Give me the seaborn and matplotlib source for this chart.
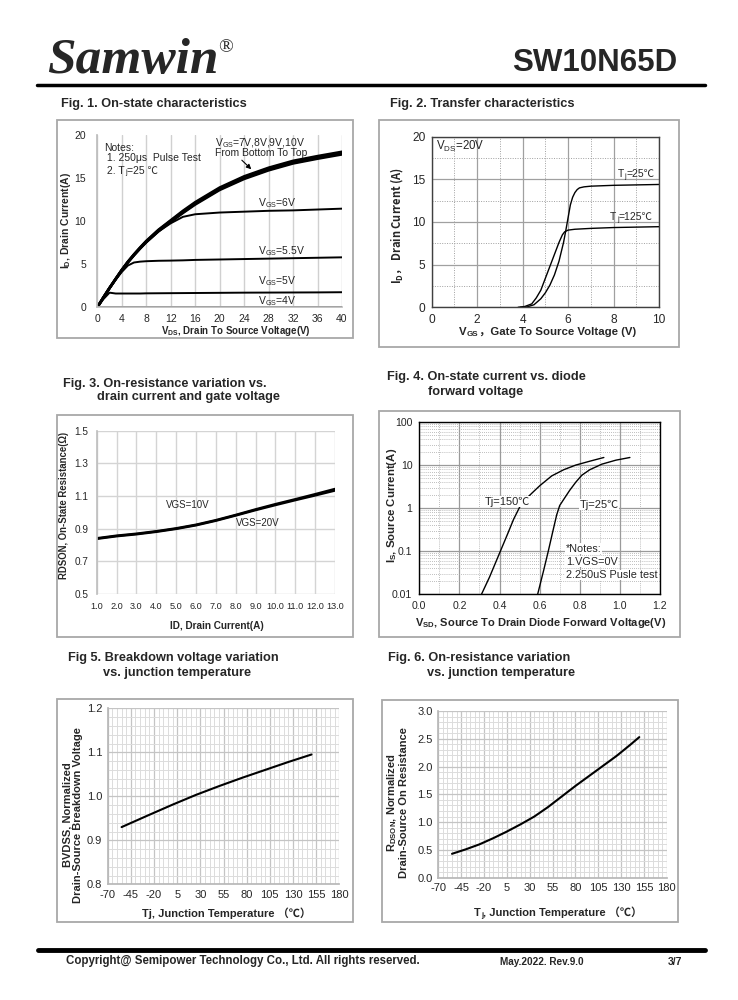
import numpy as np
import pandas as pd
import matplotlib
matplotlib.use("Agg")
import matplotlib.pyplot as plt
import seaborn as sns
from matplotlib.patches import Rectangle
from matplotlib.lines import Line2D
from matplotlib.ticker import MultipleLocator, FixedLocator, NullFormatter, FuncFormatter

# ---------------- data ----------------
# Fig 1
vds = [0, 1, 2, 3, 4, 5, 6, 7, 8, 10, 12, 14, 16, 20, 24, 28, 32, 36, 40]
id_10v = [0, 1.15, 2.25, 3.3, 4.35, 5.3, 6.15, 6.95, 7.7, 9.0, 10.1, 11.2, 12.2, 13.9, 15.2, 16.2, 17.0, 17.55, 18.05]
id_9v = [0, 1.15, 2.25, 3.3, 4.33, 5.27, 6.12, 6.9, 7.65, 8.95, 10.03, 11.1, 12.1, 13.8, 15.1, 16.1, 16.9, 17.45, 17.95]
id_8v = [0, 1.14, 2.24, 3.28, 4.3, 5.24, 6.08, 6.86, 7.6, 8.88, 9.97, 11.03, 12.02, 13.72, 15.0, 16.0, 16.8, 17.35, 17.85]
id_7v = [0, 1.13, 2.22, 3.26, 4.27, 5.2, 6.04, 6.82, 7.55, 8.82, 9.9, 10.95, 11.93, 13.62, 14.9, 15.9, 16.7, 17.25, 17.75]
id_6v = [0, 1.13, 2.22, 3.26, 4.27, 5.2, 6.04, 6.82, 7.55, 8.8, 9.75, 10.5, 10.8, 11.0, 11.1, 11.2, 11.25, 11.35, 11.45]
id_55v = [0, 1.13, 2.2, 3.2, 4.1, 4.85, 5.2, 5.3, 5.35, 5.4, 5.42, 5.45, 5.5, 5.55, 5.6, 5.65, 5.7, 5.75, 5.8]
id_5v = [0, 0.95, 1.7, 1.6, 1.6, 1.6, 1.6, 1.6, 1.62, 1.63, 1.64, 1.65, 1.66, 1.68, 1.7, 1.71, 1.72, 1.73, 1.75]
id_4v = [0, 0, 0, 0, 0, 0, 0, 0, 0, 0, 0, 0, 0, 0, 0, 0, 0, 0, 0]

# Fig 2
vgs_25 = [3.9, 4.2, 4.5, 4.8, 5.0, 5.2, 5.4, 5.6, 5.8, 5.9, 6.0, 6.1, 6.2, 6.3, 6.4, 6.5, 6.7, 7.0, 8.0, 9.0, 10.0]
id_25 = [0, 0.05, 0.3, 1.0, 1.7, 2.6, 3.8, 5.4, 7.6, 9.0, 10.5, 12.0, 12.9, 13.45, 13.8, 14.0, 14.12, 14.2, 14.3, 14.35, 14.4]
vgs_125 = [3.8, 4.1, 4.4, 4.6, 4.8, 5.0, 5.2, 5.4, 5.6, 5.75, 5.85, 6.0, 6.3, 7.0, 8.0, 9.0, 10.0]
id_125 = [0, 0.1, 0.4, 1.1, 2.0, 3.4, 4.8, 6.2, 7.6, 8.5, 8.85, 9.05, 9.15, 9.25, 9.35, 9.4, 9.45]

# Fig 3
id_a = [1, 2, 3, 4, 5, 6, 7, 8, 9, 10, 11, 12, 13]
rds_10v = [0.841, 0.857, 0.869, 0.884, 0.902, 0.924, 0.952, 0.984, 1.018, 1.050, 1.080, 1.111, 1.143]
rds_20v = [0.838, 0.854, 0.866, 0.881, 0.899, 0.921, 0.949, 0.981, 1.014, 1.045, 1.075, 1.104, 1.134]

# Fig 4
vsd_150 = [0.31, 0.35, 0.40, 0.44, 0.47, 0.50, 0.53, 0.56, 0.60, 0.66, 0.72, 0.78, 0.85, 0.92]
is_150 = [0.01, 0.025, 0.09, 0.25, 0.55, 1.05, 1.6, 2.2, 3.3, 5.6, 7.8, 10.0, 12.3, 15.0]
vsd_25 = [0.59, 0.62, 0.643, 0.665, 0.685, 0.70, 0.72, 0.75, 0.78, 0.81, 0.85, 0.91, 0.98, 1.05]
is_25 = [0.01, 0.036, 0.1, 0.28, 0.7, 1.15, 1.6, 2.6, 4.0, 5.8, 7.8, 10.5, 13.0, 15.0]

# Fig 5
tj5 = [-55, -25, 0, 25, 50, 75, 100, 125, 150]
bvdss = [0.930, 0.958, 0.981, 1.003, 1.023, 1.042, 1.060, 1.078, 1.095]

# Fig 6
tj6 = [-55, -40, -25, -10, 5, 20, 35, 50, 65, 80, 95, 110, 125, 140, 150]
rdson_n = [0.43, 0.51, 0.60, 0.71, 0.83, 0.96, 1.10, 1.27, 1.46, 1.65, 1.83, 2.01, 2.19, 2.39, 2.53]

temp_ticks = [-70, -45, -20, 5, 30, 55, 80, 105, 130, 155, 180]

# ---------------- style ----------------
sns.set_theme(style="white")
FAM = ["Liberation Sans", "Noto Sans CJK SC", "DejaVu Sans"]
CJK = ["Noto Sans CJK SC", "Liberation Sans"]
plt.rcParams["font.family"] = FAM
plt.rcParams["mathtext.default"] = "regular"
plt.rcParams["axes.unicode_minus"] = False

W, H = 738, 1000
fig = plt.figure(figsize=(W / 100, H / 100), dpi=100)
fig.patch.set_facecolor("white")


def add_ax(x0, x1, ytop, ybot):
    return fig.add_axes([x0 / W, 1 - ybot / H, (x1 - x0) / W, (ybot - ytop) / H])


def frame(x0, y0, x1, y1):
    fig.add_artist(Rectangle((x0 / W, 1 - y1 / H), (x1 - x0) / W, (y1 - y0) / H,
                             transform=fig.transFigure, fill=False, ec="#a8a8a8", lw=1.3))


def ftext(x, y, s, **kw):
    fig.text(x / W, 1 - y / H, s, **kw)


def ylab(ax, s, x, y, size=8, **kw):
    ax.set_ylabel(s, fontsize=size, fontweight="bold", va="center", **kw)
    ax.yaxis.set_label_coords(x / W, 1 - y / H, transform=fig.transFigure)


def xlab(ax, s, x, y, size=8, **kw):
    ax.set_xlabel(s, fontsize=size, fontweight="bold", va="center", **kw)
    ax.xaxis.set_label_coords(x / W, 1 - y / H, transform=fig.transFigure)


def rich(ax, x, y, parts, size, weight="normal", transform=None):
    """Horizontal text made of pieces; pieces flagged True are subscripts."""
    base = ax.text(x, y, parts[0][0], fontsize=size, fontweight=weight, va="bottom", ha="left",
                   transform=transform if transform is not None else ax.transData)
    prev = base
    for s, sub in parts[1:]:
        if sub:
            t = ax.annotate(s, xy=(1, 0), xycoords=prev, xytext=(0.2, -size * 0.05),
                            textcoords="offset points", fontsize=size * 0.7, fontweight=weight,
                            va="bottom", ha="left")
        else:
            t = ax.annotate(s, xy=(1, 0), xycoords=(prev, base), xytext=(0.2, 0),
                            textcoords="offset points", fontsize=size, fontweight=weight,
                            va="bottom", ha="left")
        prev = t
    return base


def line(ax, x, y, lw=1.3, color="black"):
    sns.lineplot(x=x, y=y, ax=ax, color=color, lw=lw, sort=False, estimator=None)


# ---------------- header / footer ----------------
ftext(47, 61, "Samwin", fontsize=37, fontweight="bold", style="italic",
      family=["Liberation Serif"], va="center", ha="left")
ftext(218, 48, "®", fontsize=14, family=["Liberation Serif"], va="center", ha="left")
ftext(677, 63, "SW10N65D", fontsize=22.5, fontweight="bold", va="center", ha="right")
fig.add_artist(Line2D([37 / W, 705 / W], [1 - 84.5 / H, 1 - 84.5 / H], color="black", lw=2.5,
                      transform=fig.transFigure))
fig.add_artist(Line2D([38 / W, 705 / W], [1 - 949.5 / H, 1 - 949.5 / H], color="black", lw=3.5,
                      transform=fig.transFigure))
ftext(66, 961, "Copyright@ Semipower Technology Co., Ltd. All rights reserved.", fontsize=8.3,
      fontweight="bold", va="center", ha="left")
ftext(500, 962, "May.2022. Rev.9.0", fontsize=7.2, fontweight="bold", va="center", ha="left")
ftext(668, 962, "3/7", fontsize=7.5, fontweight="bold", va="center", ha="left")

TS = 9.2
# ---------------- Fig 1 ----------------
frame(57, 120, 353, 338)
ftext(61, 104, "Fig. 1. On-state characteristics", fontsize=TS, fontweight="bold", va="center")
ax1 = add_ax(97.3, 342, 135, 307.3)
for yy in [id_7v, id_8v, id_9v, id_10v]:
    line(ax1, vds, yy, lw=1.9)
for yy in [id_6v, id_55v, id_5v, id_4v]:
    line(ax1, vds, yy, lw=1.4)
ax1.set_xlim(0, 40)
ax1.set_ylim(0, 20)
ax1.set_xticks(range(0, 41, 4))
ax1.set_yticks(range(0, 21, 5))
ax1.grid(axis="x", color="#d0d0d0", lw=1)
for s in ["top", "right"]:
    ax1.spines[s].set_visible(False)
ax1.spines["left"].set_color("#bdbdbd")
ax1.spines["bottom"].set_color("#bdbdbd")
ax1.tick_params(axis="y", length=3, color="#bdbdbd", labelsize=7.5, pad=5)
ax1.tick_params(axis="x", length=0, labelsize=7.5, pad=5)
ylab(ax1, "I$_D$, Drain Current(A)", 66, 221, size=7.5)
xlab(ax1, "V$_{DS}$, Drain To Source Voltage(V)", 236, 331, size=7.0)
ax1.text(1.1, 18.5, "Notes:", fontsize=7.5, va="center")
ax1.text(1.1, 17.3, " 1. 250μs  Pulse Test", fontsize=7.5, va="center")
rich(ax1, 1.1, 15.25, [(" 2. T", False), ("j", True), ("=25 ℃", False)], 7.5)
ax1.text(19.3, 19.1, "V$_{GS}$=7V,8V,9V,10V", fontsize=7.5, va="center")
ax1.text(19.3, 17.9, "From Bottom To Top", fontsize=7.5, va="center")
ax1.annotate("", xy=(25.5, 15.8), xytext=(23.3, 17.3),
             arrowprops=dict(arrowstyle="-|>", color="black", lw=0.8, mutation_scale=7))
ax1.text(26.3, 12.1, "V$_{GS}$=6V", fontsize=7.5, va="center")
ax1.text(26.3, 6.5, "V$_{GS}$=5.5V", fontsize=7.5, va="center")
ax1.text(26.3, 3.0, "V$_{GS}$=5V", fontsize=7.5, va="center")
ax1.text(26.3, 0.7, "V$_{GS}$=4V", fontsize=7.5, va="center")

# ---------------- Fig 2 ----------------
frame(379, 120, 679, 347)
ftext(390, 104, "Fig. 2. Transfer characteristics", fontsize=TS, fontweight="bold", va="center")
ax2 = add_ax(431.7, 659, 136.7, 307.3)
line(ax2, vgs_25, id_25, lw=1.0)
line(ax2, vgs_125, id_125, lw=1.0)
ax2.set_xlim(0, 10)
ax2.set_ylim(0, 20)
ax2.xaxis.set_major_locator(MultipleLocator(2))
ax2.xaxis.set_minor_locator(MultipleLocator(1))
ax2.yaxis.set_major_locator(MultipleLocator(5))
ax2.yaxis.set_minor_locator(MultipleLocator(2.5))
ax2.grid(which="major", color="#a0a0a0", lw=0.9)
ax2.grid(which="minor", color="#a0a0a0", lw=0.7, ls=(0, (1, 1.5)))
for s in ax2.spines.values():
    s.set_color("#404040")
    s.set_linewidth(1)
ax2.tick_params(which="major", length=3, labelsize=8.6, pad=1.5)
ax2.tick_params(which="minor", length=0)
ax2.tick_params(axis="both", direction="out", color="#404040")
ylab(ax2, "I$_D$， Drain Current (A)", 397, 225, size=8, family=CJK)
rich(ax2, 459 / W, 1 - 337 / H, [("V", False), ("GS", True), ("，Gate To Source Voltage (V)", False)],
     8.2, weight="bold", transform=fig.transFigure)
ax2.text(0.18, 18.9, "V$_{DS}$=20V", fontsize=8.3, va="center")
rich(ax2, 8.2, 15.0, [("T", False), ("j", True), ("=25℃", False)], 7.5)
rich(ax2, 7.85, 10.0, [("T", False), ("j", True), ("=125℃", False)], 7.5)

# ---------------- Fig 3 ----------------
frame(57, 415, 353, 637)
ftext(63, 384, "Fig. 3. On-resistance variation vs.", fontsize=TS, fontweight="bold", va="center")
ftext(97, 397, "drain current and gate voltage", fontsize=TS, fontweight="bold", va="center")
ax3 = add_ax(96.7, 335, 430.7, 594)
line(ax3, id_a, rds_10v, lw=1.8)
line(ax3, id_a, rds_20v, lw=1.8)
ax3.set_xlim(1, 13)
ax3.set_ylim(0.5, 1.5)
ax3.set_xticks(id_a)
ax3.set_yticks([0.5, 0.7, 0.9, 1.1, 1.3, 1.5])
ax3.xaxis.set_major_formatter(FuncFormatter(lambda v, p: f"{v:.1f}"))
ax3.yaxis.set_major_formatter(FuncFormatter(lambda v, p: f"{v:.1f}"))
ax3.grid(color="#d4d4d4", lw=1)
for s in ["top", "right", "bottom"]:
    ax3.spines[s].set_visible(False)
ax3.spines["left"].set_color("#c0c0c0")
ax3.tick_params(axis="x", length=0, labelsize=6.6, pad=6)
ax3.tick_params(axis="y", length=0, labelsize=7.2, pad=6)
ylab(ax3, "RDSON, On-State Resistance(Ω)", 64, 505, size=6.9)
xlab(ax3, "ID, Drain Current(A)", 217, 626, size=7.2)
ax3.text(4.5, 1.045, "VGS=10V", fontsize=7, va="center")
ax3.text(8.0, 0.935, "VGS=20V", fontsize=7, va="center")

# ---------------- Fig 4 ----------------
frame(379, 411, 680, 637)
ftext(387, 377, "Fig. 4. On-state current vs. diode", fontsize=TS, fontweight="bold", va="center")
ftext(428, 392, "forward voltage", fontsize=TS, fontweight="bold", va="center")
ax4 = add_ax(419.3, 660, 422, 594.3)
ax4.set_yscale("log")
line(ax4, vsd_150, is_150, lw=1.0)
line(ax4, vsd_25, is_25, lw=1.0)
ax4.set_xlim(0, 1.2)
ax4.set_ylim(0.01, 100)
ax4.xaxis.set_major_locator(MultipleLocator(0.2))
ax4.xaxis.set_minor_locator(MultipleLocator(0.1))
ax4.yaxis.set_major_locator(FixedLocator([0.01, 0.1, 1, 10, 100]))
ax4.yaxis.set_minor_locator(FixedLocator([m * 10.0 ** e for e in range(-2, 2) for m in range(2, 10)]))
ax4.yaxis.set_minor_formatter(NullFormatter())
ax4.yaxis.set_major_formatter(FuncFormatter(lambda v, p: {0.01: "0.01", 0.1: "0.1", 1: "1", 10: "10", 100: "100"}.get(round(v, 2), "")))
ax4.xaxis.set_major_formatter(FuncFormatter(lambda v, p: f"{v:.1f}"))
ax4.grid(which="major", color="#9a9a9a", lw=0.9)
ax4.grid(which="minor", color="#a8a8a8", lw=0.6, ls=(0, (1, 1.5)))
for s in ax4.spines.values():
    s.set_color("black")
    s.set_linewidth(1)
ax4.tick_params(which="major", length=3, labelsize=7.6, pad=2, direction="out")
ax4.tick_params(which="minor", length=0)
ylab(ax4, "I$_S$, Source Current(A)", 392, 505, size=8.2)
xlab(ax4, "V$_{SD}$, Source To Drain Diode Forward Voltage(V)", 541, 623, size=8.0)
bb = dict(fc="white", ec="none", pad=0.3)
ax4.text(0.327, 1.4, "Tj=150℃", fontsize=8, va="center", bbox=bb)
ax4.text(0.80, 1.2, "Tj=25℃", fontsize=8, va="center", bbox=bb)
ax4.text(0.73, 0.115, "*Notes:", fontsize=7.8, va="center", bbox=bb)
ax4.text(0.73, 0.057, "1.VGS=0V", fontsize=7.8, va="center", bbox=bb)
ax4.text(0.73, 0.028, "2.250uS Pusle test", fontsize=7.8, va="center", bbox=bb)

# ---------------- Fig 5 ----------------
frame(57, 699, 353, 922)
ftext(68, 658, "Fig 5. Breakdown voltage variation", fontsize=TS, fontweight="bold", va="center")
ftext(103, 673, "vs. junction temperature", fontsize=TS, fontweight="bold", va="center")
ax5 = add_ax(107.7, 339.3, 708.3, 884.3)
line(ax5, tj5, bvdss, lw=1.5)
ax5.set_xlim(-70, 180)
ax5.set_ylim(0.8, 1.2)
ax5.set_xticks(temp_ticks)
ax5.xaxis.set_minor_locator(MultipleLocator(5))
ax5.yaxis.set_major_locator(MultipleLocator(0.1))
ax5.yaxis.set_minor_locator(MultipleLocator(0.02))
ax5.yaxis.set_major_formatter(FuncFormatter(lambda v, p: f"{v:.1f}"))
ax5.grid(which="major", color="#c4c4c4", lw=0.9)
ax5.grid(which="minor", color="#dcdcdc", lw=0.7)
for s in ["top", "right"]:
    ax5.spines[s].set_visible(False)
for s in ["left", "bottom"]:
    ax5.spines[s].set_color("#b8b8b8")
ax5.tick_params(which="both", length=0, labelsize=8, pad=4)
ylab(ax5, "BVDSS, Normalized\nDrain-Source Breakdown Voltage", 73, 815, size=8, linespacing=1.05)
xlab(ax5, "Tj, Junction Temperature （℃）", 227, 913, size=8)

# ---------------- Fig 6 ----------------
frame(382, 700, 678, 922)
ftext(388, 658, "Fig. 6. On-resistance variation", fontsize=TS, fontweight="bold", va="center")
ftext(427, 673, "vs. junction temperature", fontsize=TS, fontweight="bold", va="center")
ax6 = add_ax(438.3, 666.7, 711, 877.7)
line(ax6, tj6, rdson_n, lw=1.5)
ax6.set_xlim(-70, 180)
ax6.set_ylim(0, 3.0)
ax6.set_xticks(temp_ticks)
ax6.xaxis.set_minor_locator(MultipleLocator(5))
ax6.yaxis.set_major_locator(MultipleLocator(0.5))
ax6.yaxis.set_minor_locator(MultipleLocator(0.1))
ax6.yaxis.set_major_formatter(FuncFormatter(lambda v, p: f"{v:.1f}"))
ax6.grid(which="major", color="#c4c4c4", lw=0.9)
ax6.grid(which="minor", color="#dcdcdc", lw=0.7)
for s in ["top", "right"]:
    ax6.spines[s].set_visible(False)
for s in ["left", "bottom"]:
    ax6.spines[s].set_color("#b8b8b8")
ax6.tick_params(which="both", length=0, labelsize=8, pad=4)
ylab(ax6, "R$_{DSON}$, Normalized\nDrain-Source On Resistance", 397, 803, size=8, linespacing=1.05)
rich(ax6, 474 / W, 1 - 918 / H, [("T", False), ("j", True), (", Junction Temperature （℃）", False)],
     8, weight="bold", transform=fig.transFigure)

fig.savefig("out.png", dpi=100, facecolor="white")
